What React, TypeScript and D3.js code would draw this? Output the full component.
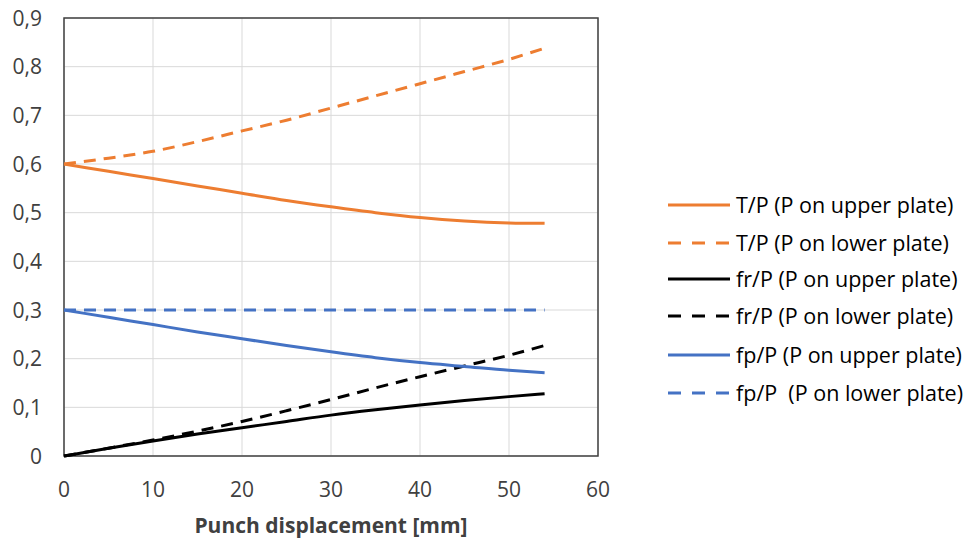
import React from 'react';
import * as d3 from 'd3';

const xs = [0, 5, 10, 15, 20, 25, 30, 35, 40, 45, 50, 54];
const tpUpper = [0.6, 0.585, 0.57, 0.555, 0.54, 0.525, 0.512, 0.5, 0.49, 0.483, 0.479, 0.478];
const tpLower = [0.6, 0.612, 0.626, 0.646, 0.668, 0.69, 0.715, 0.74, 0.765, 0.79, 0.815, 0.838];
const frUpper = [0, 0.016, 0.031, 0.045, 0.058, 0.071, 0.084, 0.095, 0.105, 0.114, 0.122, 0.128];
const frLower = [0, 0.016, 0.033, 0.051, 0.071, 0.093, 0.116, 0.14, 0.163, 0.185, 0.207, 0.227];
const fpUpper = [0.3, 0.285, 0.27, 0.255, 0.241, 0.227, 0.214, 0.202, 0.192, 0.184, 0.176, 0.171];
const fpLower = [0.3, 0.3, 0.3, 0.3, 0.3, 0.3, 0.3, 0.3, 0.3, 0.3, 0.3, 0.3];

const seriesNames = [
  'T/P (P on upper plate)',
  'T/P (P on lower plate)',
  'fr/P (P on upper plate)',
  'fr/P (P on lower plate)',
  'fp/P (P on upper plate)',
  'fp/P\u00a0 (P on lower plate)',
];
const xTicks = [0, 10, 20, 30, 40, 50, 60];
const yTicks = [0, 0.1, 0.2, 0.3, 0.4, 0.5, 0.6, 0.7, 0.8, 0.9];

const ORANGE = '#ed7d31';
const BLUE = '#4472c4';
const BLACK = '#000000';

export default function App() {
  const left = 64, right = 598, top = 18, bottom = 456;
  const x = d3.scaleLinear().domain([0, 60]).range([left, right]);
  const y = d3.scaleLinear().domain([0, 0.9]).range([bottom, top]);
  const font = 'Open Sans, sans-serif';

  const series = [
    { name: seriesNames[0], values: tpUpper, color: ORANGE, dash: null },
    { name: seriesNames[1], values: tpLower, color: ORANGE, dash: '12,8' },
    { name: seriesNames[2], values: frUpper, color: BLACK, dash: null },
    { name: seriesNames[3], values: frLower, color: BLACK, dash: '12,8' },
    { name: seriesNames[4], values: fpUpper, color: BLUE, dash: null },
    { name: seriesNames[5], values: fpLower, color: BLUE, dash: '12,8' },
  ];

  const line = d3.line<[number, number]>()
    .x(d => x(d[0]))
    .y(d => y(d[1]))
    .curve(d3.curveMonotoneX);

  const fmt = (v: number) => (v === 0 ? '0' : v.toFixed(1).replace('.', ','));
  const legendY = [205, 243, 279, 316, 355, 393];

  return (
    <svg width={978} height={543} style={{ position: 'absolute', left: 0, top: 0 }}>
      <rect width={978} height={543} fill="#fff" />
      {xTicks.map(t => (
        <line key={'gx' + t} x1={x(t)} x2={x(t)} y1={top} y2={bottom} stroke="#d9d9d9" strokeWidth={1} />
      ))}
      {yTicks.map(t => (
        <line key={'gy' + t} x1={left} x2={right} y1={y(t)} y2={y(t)} stroke="#d9d9d9" strokeWidth={1} />
      ))}
      <rect x={left} y={top} width={right - left} height={bottom - top} fill="none" stroke="#404040" strokeWidth={1.5} />
      {yTicks.map(t => (
        <text key={'ly' + t} x={42} y={y(t)} dy="0.36em" textAnchor="end" fontFamily={font} fontSize={21} fill="#404040">{fmt(t)}</text>
      ))}
      {xTicks.map(t => (
        <text key={'lx' + t} x={x(t)} y={497} textAnchor="middle" fontFamily={font} fontSize={21} fill="#404040">{t}</text>
      ))}
      <text x={331} y={533} textAnchor="middle" fontFamily={font} fontSize={21} fontWeight="bold" fill="#404040">Punch displacement [mm]</text>
      {series.map(s => (
        <path key={s.name} d={line(xs.map((v, i) => [v, s.values[i]]) as [number, number][]) || ''}
          fill="none" stroke={s.color} strokeWidth={3} strokeDasharray={s.dash || undefined} />
      ))}
      {series.map((s, i) => (
        <g key={'lg' + i}>
          <line x1={668} x2={730} y1={legendY[i]} y2={legendY[i]} stroke={s.color} strokeWidth={3}
            strokeDasharray={s.dash ? '13,11' : undefined} />
          <text x={736} y={legendY[i]} dy="0.36em" fontFamily={font} fontSize={21.5} fill="#000">{s.name}</text>
        </g>
      ))}
    </svg>
  );
}
